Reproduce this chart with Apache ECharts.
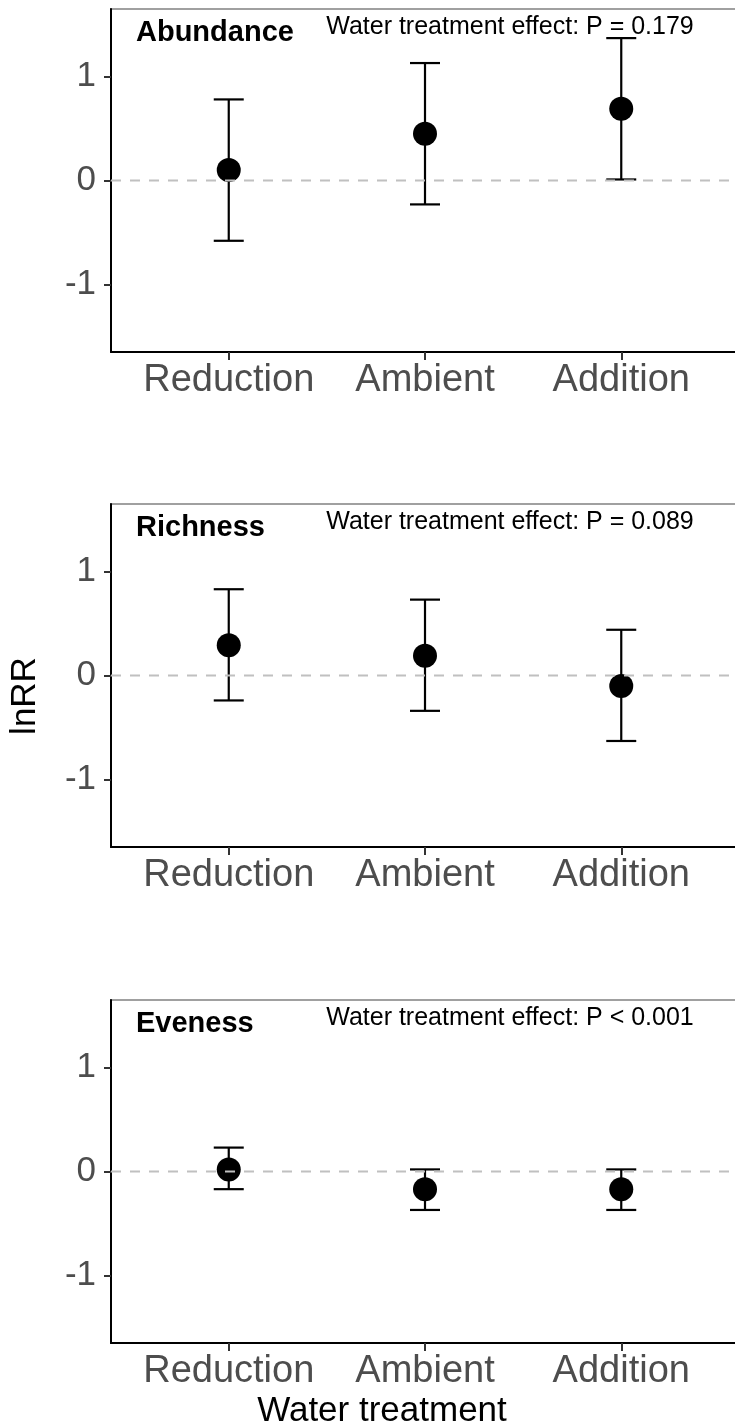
<!DOCTYPE html>
<html>
<head>
<meta charset="utf-8">
<script src="https://cdn.jsdelivr.net/npm/echarts@6/dist/echarts.min.js"></script>
<style>
html,body{margin:0;padding:0;background:#fff;overflow:hidden;width:735px;height:1426px;}
#chart{width:745px;height:1426px;}
</style>
</head>
<body>
<div id="chart"></div>
<script>
// ---- data ----
const categories = ['Reduction', 'Ambient', 'Addition'];
const categoryPositions = [1, 2, 3];
const yTickValues = [-1, 0, 1];

const panelNames = ['Abundance', 'Richness', 'Eveness'];
const panelNotes = ['Water treatment effect: P = 0.179', 'Water treatment effect: P = 0.089', 'Water treatment effect: P < 0.001'];

const abundanceMean  = [0.10, 0.45, 0.69];
const abundanceLower = [-0.58, -0.23, 0.01];
const abundanceUpper = [0.78, 1.13, 1.37];

const richnessMean  = [0.29, 0.19, -0.10];
const richnessLower = [-0.24, -0.34, -0.63];
const richnessUpper = [0.83, 0.73, 0.44];

const evenessMean  = [0.02, -0.17, -0.17];
const evenessLower = [-0.17, -0.37, -0.37];
const evenessUpper = [0.23, 0.02, 0.02];

const referenceValue = 0;

// ---- layout ----
const FONT = '"Liberation Sans", Arial, sans-serif';
const panels = [
  {mean: abundanceMean, lower: abundanceLower, upper: abundanceUpper},
  {mean: richnessMean, lower: richnessLower, upper: richnessUpper},
  {mean: evenessMean, lower: evenessLower, upper: evenessUpper}
];
const gridTops = [9, 504, 1000];
const gridHeight = 343;
const xMin = 0.4, xMax = 3.6, yMin = -1.65, yMax = 1.65;

const chart = echarts.init(document.getElementById('chart'), null, {renderer: 'canvas'});

const grids = [], xAxes = [], yAxes = [], series = [], graphics = [];

panels.forEach((p, i) => {
  grids.push({left: 111, width: 628, top: gridTops[i], height: gridHeight,
    show: true, borderColor: '#a0a0a0', borderWidth: 2, backgroundColor: 'transparent'});
  xAxes.push({
    type: 'value', gridIndex: i, min: xMin, max: xMax,
    splitLine: {show: false},
    axisLine: {show: true, onZero: false, lineStyle: {color: '#000', width: 2}},
    axisTick: {show: true, length: 8, customValues: categoryPositions, lineStyle: {color: '#333', width: 2}},
    axisLabel: {show: true, customValues: categoryPositions, margin: 10,
      formatter: v => categories[Math.round(v) - 1] || '',
      fontSize: 38, color: '#4d4d4d', fontFamily: FONT}
  });
  yAxes.push({
    type: 'value', gridIndex: i, min: yMin, max: yMax,
    splitLine: {show: false},
    axisLine: {show: true, onZero: false, lineStyle: {color: '#000', width: 2}},
    axisTick: {show: true, length: 7, customValues: yTickValues, lineStyle: {color: '#333', width: 2}},
    axisLabel: {show: true, customValues: yTickValues, margin: 15,
      fontSize: 35, color: '#4d4d4d', fontFamily: FONT}
  });

  series.push({
    type: 'custom', xAxisIndex: i, yAxisIndex: i, z: 2, silent: true,
    data: categoryPositions.map((x, j) => [x, p.lower[j], p.upper[j]]),
    encode: {x: 0, y: [1, 2]},
    renderItem: function (params, api) {
      const x = api.value(0);
      const top = api.coord([x, api.value(2)]);
      const bot = api.coord([x, api.value(1)]);
      const hw = 15;
      const st = {stroke: '#000', lineWidth: 2.2};
      return {type: 'group', children: [
        {type: 'line', shape: {x1: top[0], y1: top[1], x2: bot[0], y2: bot[1]}, style: st},
        {type: 'line', shape: {x1: top[0] - hw, y1: top[1], x2: top[0] + hw, y2: top[1]}, style: st},
        {type: 'line', shape: {x1: bot[0] - hw, y1: bot[1], x2: bot[0] + hw, y2: bot[1]}, style: st}
      ]};
    }
  });
  series.push({
    type: 'scatter', xAxisIndex: i, yAxisIndex: i, z: 3, silent: true,
    symbol: 'circle', symbolSize: 24,
    itemStyle: {color: '#000', opacity: 1},
    data: categoryPositions.map((x, j) => [x, p.mean[j]])
  });
  series.push({
    type: 'line', xAxisIndex: i, yAxisIndex: i, z: 5, silent: true,
    symbol: 'none',
    lineStyle: {color: '#c0c0c0', width: 2, type: [10, 9]},
    data: [[xMin, referenceValue], [xMax, referenceValue]]
  });

  graphics.push({type: 'text', x: 136, y: gridTops[i] + 23.5, z: 10,
    style: {text: panelNames[i], font: 'bold 29px ' + FONT, fill: '#000', align: 'left', verticalAlign: 'middle'}});
  graphics.push({type: 'text', x: 510, y: gridTops[i] + 18.5, z: 10,
    style: {text: panelNotes[i], font: '25px ' + FONT, fill: '#000', align: 'center', verticalAlign: 'middle'}});
});

graphics.push({type: 'text', x: 25, y: 696, rotation: Math.PI / 2, z: 10,
  style: {text: 'lnRR', font: '35px ' + FONT, fill: '#000', align: 'center', verticalAlign: 'middle'}});
graphics.push({type: 'text', x: 382, y: 1411, z: 10,
  style: {text: 'Water treatment', font: '35px ' + FONT, fill: '#000', align: 'center', verticalAlign: 'middle'}});

chart.setOption({
  animation: false,
  backgroundColor: '#fff',
  grid: grids, xAxis: xAxes, yAxis: yAxes, series: series, graphic: graphics
});
</script>
</body>
</html>
